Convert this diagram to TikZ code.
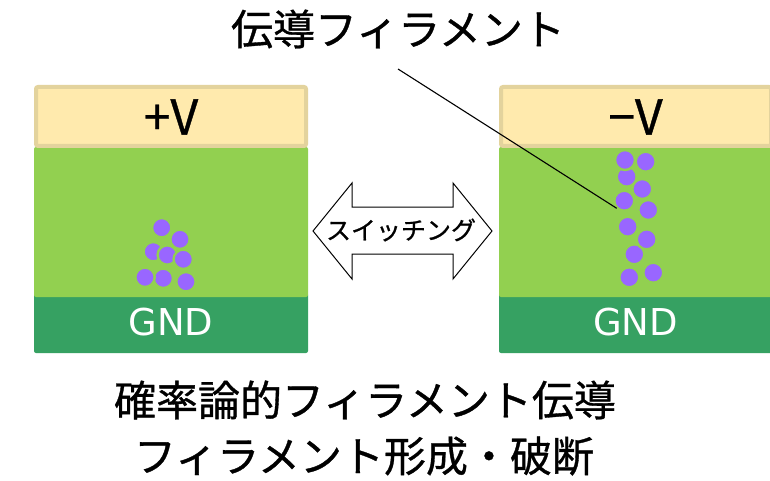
\documentclass[tikz,border=0pt]{standalone}
\usepackage{fontspec}
\setmainfont[FakeBold=0.8]{Noto Sans CJK JP}
\newfontfamily\gndfont{DejaVu Sans}
\definecolor{capY}{HTML}{FFEAAD}
\definecolor{capB}{HTML}{E3D39D}
\definecolor{midG}{HTML}{92D050}
\definecolor{gndG}{HTML}{36A162}
\definecolor{ion}{HTML}{9966FF}
\tikzset{
  topcap/.style={fill=capY, draw=capB, line width=4pt, rounded corners=2pt},
  midlayer/.style={fill=midG, rounded corners=2pt},
  gndlayer/.style={fill=gndG, rounded corners=2pt},
  iondot/.style={fill=ion, draw=midG, line width=2.4pt},
  volt/.style={inner sep=0pt, font=\fontsize{48}{56}\selectfont},
  gndlabel/.style={inner sep=0pt, text=white, font=\gndfont\fontsize{37}{44}\selectfont},
  bigtext/.style={inner sep=0pt, font=\fontsize{42}{50}\selectfont},
  swarrow/.style={fill=white, draw=black, line width=1pt, line join=miter},
  leader/.style={draw=black, line width=1.1pt}
}
\newcommand{\cellstack}[1]{%
  \fill[gndlayer] (#1,293) rectangle ++(274,60);
  \fill[midlayer] (#1,147) rectangle ++(274,150);
  \draw[topcap] (#1+2,87) rectangle ++(270,59);
}
\begin{document}
\begin{tikzpicture}[x=1pt,y=-1pt]
  \useasboundingbox (0,0) rectangle (770,481);
  \fill[white] (0,0) rectangle (770,481);

  % two memory cells
  \cellstack{34}
  \cellstack{499}

  % partial filament (left cell)
  \foreach \px/\py in {161.7/227.7, 180/239.3, 153.3/251.7, 167.3/255,
                       183.3/259.3, 163.3/278.3, 145/277.3, 186/281.7}
    \draw[iondot] (\px,\py) circle (9.7pt);

  % complete filament (right cell)
  \foreach \px/\py in {626.7/176.7, 625/160, 645.7/161.7, 624.3/200.7,
                       642.3/189, 648.3/210, 627.7/226.7, 634.3/254.3,
                       646.7/239.3, 629.3/277.3, 653.3/272.7}
    \draw[iondot] (\px,\py) circle (10pt);

  % electrode labels
  \node[volt] (vp) at (171,117) {+V};
  \node[volt] (vm) at (635.5,117) {−V};
  \node[gndlabel] (g1) at (171,322) {GND};
  \node[gndlabel] (g2) at (635.5,322) {GND};

  % switching double arrow
  \draw[swarrow] (313,231) -- (352,183) -- (352,207) -- (453,207) -- (453,183)
    -- (492,231) -- (453,279) -- (453,254) -- (352,254) -- (352,279) -- cycle;
  \node[inner sep=0pt, font=\fontsize{25}{30}\selectfont] (sw) at (401,230) {スイッチング};

  % filament callout
  \node[bigtext] (lbl) at (398,29) {伝導フィラメント};
  \coordinate (lead) at (398,69);
  \coordinate (tip) at (616.7,208.3);
  \draw[leader] (lead) -- (tip);

  % caption
  \node[bigtext] (cap1) at (365,400) {確率論的フィラメント伝導};
  \node[bigtext] (cap2) at (364,456) {フィラメント形成・破断};
\end{tikzpicture}
\end{document}
